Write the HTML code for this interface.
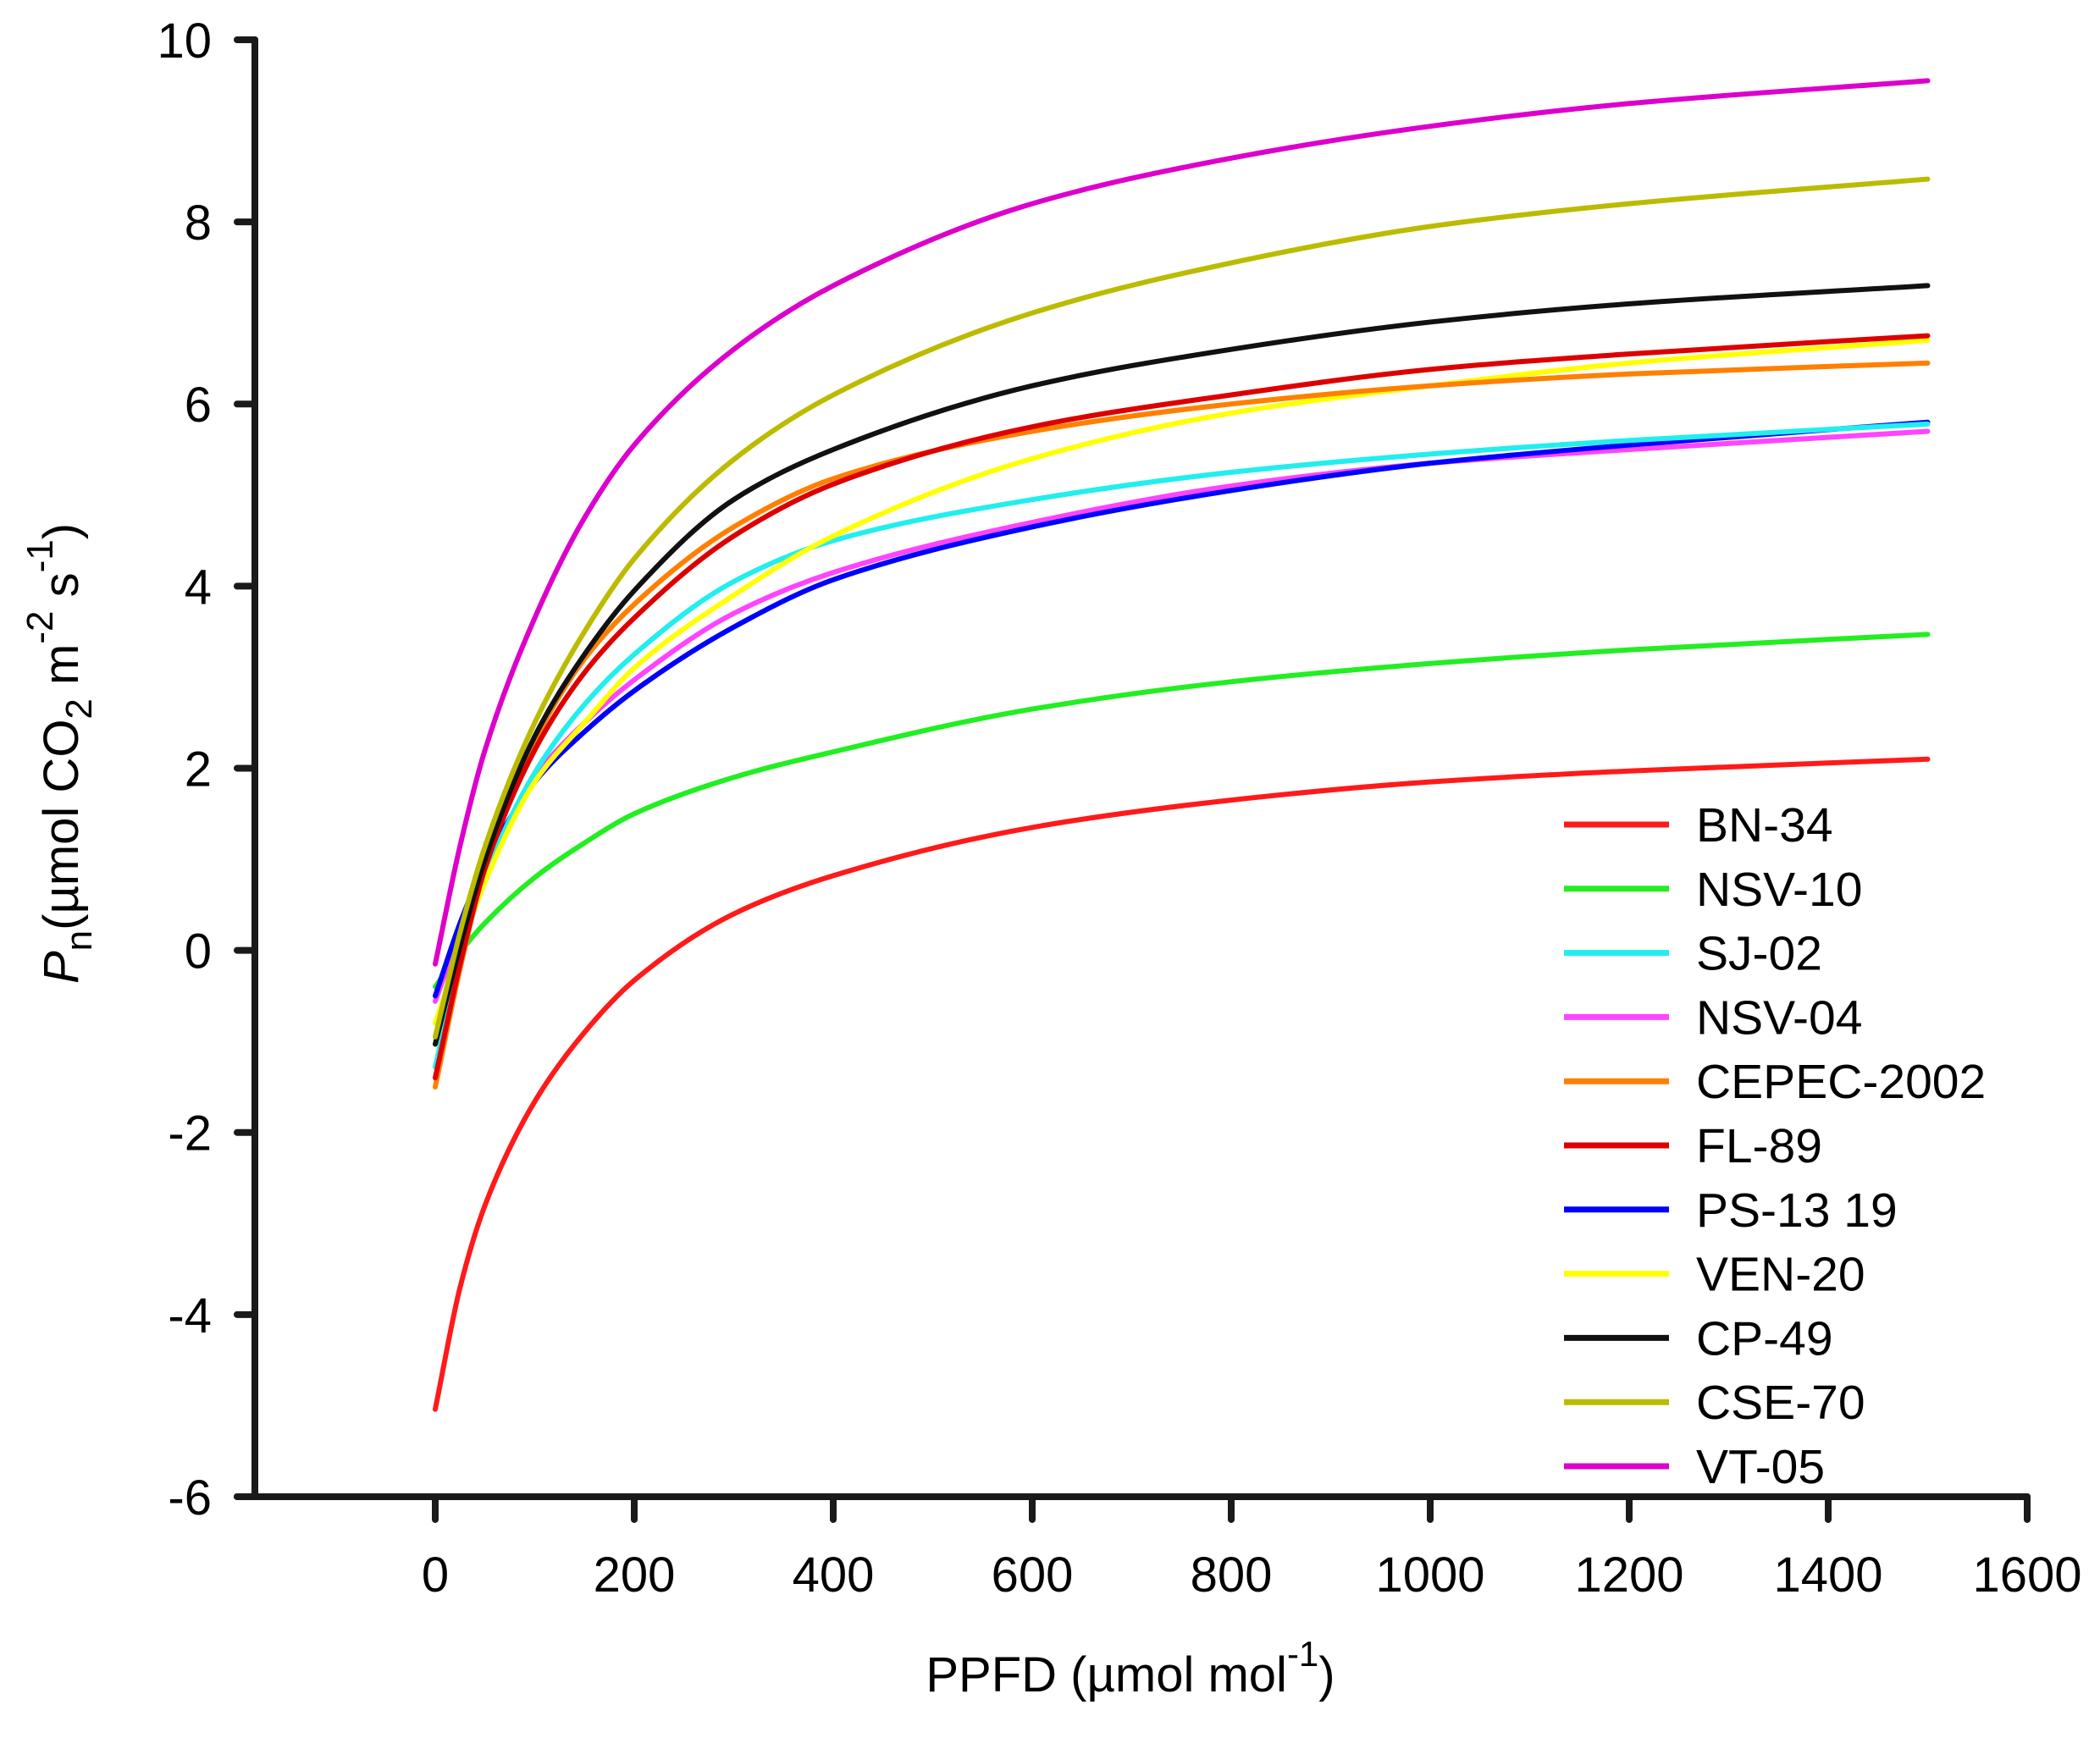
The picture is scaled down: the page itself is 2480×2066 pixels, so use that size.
<!DOCTYPE html>
<html><head><meta charset="utf-8"><style>
html,body{margin:0;padding:0;background:#fff;}
svg{display:block;font-family:"Liberation Sans",Arial,sans-serif;}
</style></head><body>
<svg id="chart" width="2480" height="2066" viewBox="0 0 2480 2066">
<g id="axes"></g>
<g id="series"></g>
<g id="legend"></g>
<text x="1335" y="1998" font-size="58" text-anchor="middle">PPFD (µmol mol<tspan dy="-30" font-size="42">-1</tspan><tspan dy="30">)</tspan></text>
<text transform="translate(92,890) rotate(-90)" font-size="58" text-anchor="middle"><tspan font-style="italic">P</tspan><tspan dy="16" font-size="44">n</tspan><tspan dy="-16">(µmol CO</tspan><tspan dy="16" font-size="44">2</tspan><tspan dy="-16"> m</tspan><tspan dy="-30" font-size="44">-2</tspan><tspan dy="30"> s</tspan><tspan dy="-30" font-size="44">-1</tspan><tspan dy="30">)</tspan></text>
</svg>
<script>
const xVals=[0,25,50,100,150,200,300,400,600,800,1000,1200,1500];
const names=["BN-34","NSV-10","SJ-02","NSV-04","CEPEC-2002","FL-89","PS-13 19","VEN-20","CP-49","CSE-70","VT-05"];
const colors=["#ff1a1a","#22ee22","#22eeee","#ff44ff","#ff8000","#dd0000","#0000ff","#ffff00","#111111","#bbbb00","#dd00cc"];
const bn34=[-5.04,-3.7,-2.8,-1.66,-0.9,-0.33,0.4,0.82,1.35,1.65,1.85,1.97,2.1];
const nsv10=[-0.4,-0.02,0.3,0.8,1.18,1.5,1.9,2.18,2.65,2.95,3.15,3.3,3.47];
const sj02=[-1.28,-0.1,0.8,1.95,2.7,3.25,4.05,4.5,4.95,5.25,5.45,5.6,5.78];
const nsv04=[-0.56,0.2,0.85,1.9,2.5,2.97,3.7,4.15,4.7,5.1,5.35,5.5,5.7];
const cepec=[-1.5,-0.2,0.9,2.3,3.2,3.8,4.65,5.18,5.7,6.0,6.2,6.33,6.45];
const fl89=[-1.4,-0.15,0.9,2.2,3.05,3.65,4.55,5.12,5.75,6.1,6.38,6.55,6.75];
const ps13=[-0.5,0.3,0.95,1.85,2.4,2.85,3.55,4.07,4.65,5.05,5.35,5.55,5.8];
const ven20=[-0.8,0.0,0.75,1.85,2.5,3.1,3.9,4.55,5.4,5.9,6.2,6.45,6.7];
const cp49=[-1.03,0.05,1.0,2.35,3.25,3.95,4.95,5.5,6.2,6.6,6.9,7.1,7.3];
const cse70=[-0.95,0.2,1.14,2.5,3.5,4.3,5.39,6.1,7.0,7.55,7.95,8.2,8.47];
const vt05=[-0.15,1.15,2.2,3.65,4.75,5.55,6.6,7.3,8.2,8.7,9.05,9.3,9.55];
const seriesVals=[bn34,nsv10,sj02,nsv04,cepec,fl89,ps13,ven20,cp49,cse70,vt05];
const xTicks=[0,200,400,600,800,1000,1200,1400,1600];
const yTicks=[-6,-4,-2,0,2,4,6,8,10];
const drawOrder=[1,0,3,6,2,7,4,5,8,9,10];

const NS="http://www.w3.org/2000/svg";
const X=v=>514+v*(2394-514)/1600;
const Y=v=>47+(10-v)*107.56;
function mk(tag,attrs,parent){const e=document.createElementNS(NS,tag);for(const k in attrs)e.setAttribute(k,attrs[k]);parent.appendChild(e);return e;}
const axes=document.getElementById('axes');
let l=mk('line',{x1:301,y1:Y(10),x2:301,y2:Y(-6),stroke:'#1a1a1a','stroke-width':8,'stroke-linecap':'round'},axes);


l=mk('line',{x1:280,y1:Y(-6),x2:X(1600),y2:Y(-6),stroke:'#1a1a1a','stroke-width':8,'stroke-linecap':'round'},axes);


yTicks.forEach(t=>{
  const tk=mk('line',{x1:280,y1:Y(t),x2:301,y2:Y(t),stroke:'#1a1a1a','stroke-width':8,'stroke-linecap':'round'},axes);
  
  
  const tx=mk('text',{x:250,y:Y(t)+21,'font-size':58,'text-anchor':'end'},axes);
  tx.textContent=t;
  
  
});
xTicks.forEach(t=>{
  const tk=mk('line',{x1:X(t),y1:Y(-6),x2:X(t),y2:Y(-6)+27,stroke:'#1a1a1a','stroke-width':8,'stroke-linecap':'round'},axes);
  
  
  const tx=mk('text',{x:X(t),y:Y(-6)+112,'font-size':58,'text-anchor':'middle'},axes);
  tx.textContent=t;
  
  
});
function pathFor(vals){
  const n=xVals.length;
  const px=xVals.map(X), py=vals.map(Y);
  const d=[],m=new Array(n);
  for(let i=0;i<n-1;i++)d.push((py[i+1]-py[i])/(px[i+1]-px[i]));
  m[0]=d[0];m[n-1]=d[n-2];
  for(let i=1;i<n-1;i++){
    if(d[i-1]*d[i]<=0)m[i]=0;
    else{const w1=2*(px[i+1]-px[i])+(px[i]-px[i-1]),w2=(px[i+1]-px[i])+2*(px[i]-px[i-1]);m[i]=(w1+w2)/(w1/d[i-1]+w2/d[i]);}
  }
  let s='M'+px[0]+','+py[0];
  for(let i=0;i<n-1;i++){
    const h=(px[i+1]-px[i])/3;
    s+=' C'+(px[i]+h)+','+(py[i]+m[i]*h)+' '+(px[i+1]-h)+','+(py[i+1]-m[i+1]*h)+' '+px[i+1]+','+py[i+1];
  }
  return s;
}
const sg=document.getElementById('series');
drawOrder.forEach(i=>{
  const pth=mk('path',{d:pathFor(seriesVals[i]),fill:'none',stroke:colors[i],'stroke-width':6,'stroke-linejoin':'round','stroke-linecap':'round'},sg);
  
  
});
const lg=document.getElementById('legend');
names.forEach((n,i)=>{
  const y=974+i*75.8;
  const g=mk('g',{},lg);
  
  
  mk('line',{x1:1847,y1:y,x2:1971,y2:y,stroke:colors[i],'stroke-width':7},g);
  const t=mk('text',{x:2003,y:y+20,'font-size':57},g);
  t.textContent=n;
});
</script>
</body></html>
